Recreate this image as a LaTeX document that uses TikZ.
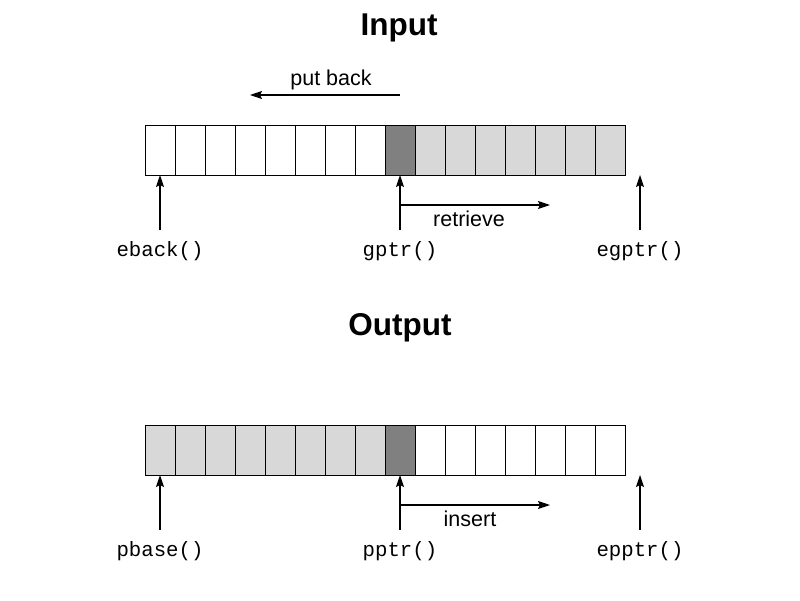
\documentclass[tikz,border=0pt]{standalone}
\usepackage{fontspec}
\newfontfamily\arialf{Liberation Sans}
\newfontfamily\courf{Liberation Mono}
\usetikzlibrary{arrows.meta}
\definecolor{lightcell}{HTML}{D8D8D8}
\definecolor{darkcell}{HTML}{808080}
\tikzset{
  cell/.style={draw=black, line width=1pt, minimum width=30pt, minimum height=50pt, inner sep=0pt, outer sep=0pt},
  ptr/.style={line width=1.2pt, -{Stealth[length=12pt,width=8pt,inset=2pt]}},
  ptrlabel/.style={font=\courf\fontsize{20.7}{24}\selectfont, inner sep=0pt},
  sanslabel/.style={font=\arialf\fontsize{21.5}{25}\selectfont, inner sep=0pt},
  titlelabel/.style={font=\arialf\bfseries\fontsize{31.5}{37}\selectfont, inner sep=0pt}
}
\begin{document}
\begin{tikzpicture}[x=1pt,y=-1pt]
\useasboundingbox (0,0) rectangle (800,600);
\fill[white] (0,0) rectangle (800,600);
% titles
\node[titlelabel] (tin) at (399,28) {Input};
\node[titlelabel] (tout) at (400,328) {Output};
% input cells
\foreach \i in {0,...,15} {
  \pgfmathsetmacro{\xx}{160+30*\i}
  \ifnum\i<8 \def\fc{white}\else\ifnum\i=8 \def\fc{darkcell}\else\def\fc{lightcell}\fi\fi
  \node[cell, fill=\fc] (in\i) at (\xx,150) {};
}
% output cells
\foreach \i in {0,...,15} {
  \pgfmathsetmacro{\xx}{160+30*\i}
  \ifnum\i<8 \def\fc{lightcell}\else\ifnum\i=8 \def\fc{darkcell}\else\def\fc{white}\fi\fi
  \node[cell, fill=\fc] (out\i) at (\xx,450) {};
}
% input pointers
\coordinate (egtip) at (640,175);
\coordinate (ebase) at (160,230);
\coordinate (gbase) at (400,230);
\coordinate (egbase) at (640,230);
\draw[ptr] (ebase) -- (in0.south);
\draw[ptr] (gbase) -- (in8.south);
\draw[ptr] (egbase) -- (egtip);
\node[ptrlabel] (leback) at (160,251) {eback()};
\node[ptrlabel] (lgptr) at (400,251) {gptr()};
\node[ptrlabel] (legptr) at (640,251) {egptr()};
% retrieve
\coordinate (r0) at (400,205);
\coordinate (r1) at (550,205);
\draw[ptr] (r0) -- (r1);
\node[sanslabel] (lret) at (469,219) {retrieve};
% put back
\coordinate (p0) at (400,95);
\coordinate (p1) at (250,95);
\draw[ptr] (p0) -- (p1);
\node[sanslabel] (lput) at (331,80) {put back};
% output pointers
\coordinate (eptip) at (640,475);
\coordinate (pbbase) at (160,530);
\coordinate (ppbase) at (400,530);
\coordinate (epbase) at (640,530);
\draw[ptr] (pbbase) -- (out0.south);
\draw[ptr] (ppbase) -- (out8.south);
\draw[ptr] (epbase) -- (eptip);
\node[ptrlabel] (lpbase) at (160,551) {pbase()};
\node[ptrlabel] (lpptr) at (400,551) {pptr()};
\node[ptrlabel] (lepptr) at (640,551) {epptr()};
% insert
\coordinate (i0) at (400,505);
\coordinate (i1) at (550,505);
\draw[ptr] (i0) -- (i1);
\node[sanslabel] (lins) at (470,519) {insert};
\end{tikzpicture}
\end{document}
